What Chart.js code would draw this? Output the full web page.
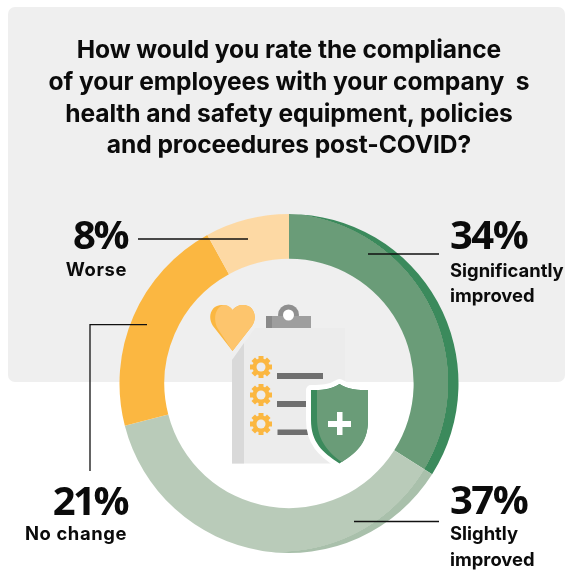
<!DOCTYPE html>
<html>
<head>
<meta charset="utf-8">
<title>Compliance post-COVID</title>
<script src="https://cdn.jsdelivr.net/npm/chart.js@4"></script>
<style>
  html, body { margin: 0; padding: 0; background: #fff; overflow: hidden; }
  #page { position: relative; width: 565px; height: 572px; overflow: hidden; font-family: "Inter", sans-serif; color: #0b0b0b; }
  #panel { position: absolute; left: 8px; top: 7px; width: 557px; height: 375px; background: #efefef; border-radius: 7px; }
  #chart { position: absolute; left: 119px; top: 213px; }
  #overlay { position: absolute; left: 0; top: 0; }
  .t { position: absolute; white-space: pre; line-height: 1; font-weight: 700; }
  .title { left: 0; width: 578px; text-align: center; font-size: 24.6px; letter-spacing: -0.08px; }
  .pct { font-family: "Open Sans", sans-serif; font-size: 40px; letter-spacing: -1.5px; }
  .lab { font-size: 18.4px; }
  .r { text-align: right; right: 438px; }
  .l { left: 450px; }
  .pct.r { letter-spacing: -2.5px; }
  .lab.r { letter-spacing: 0.6px; }
</style>
</head>
<body>
<div id="page">
  <div id="panel"></div>
  <canvas id="chart" width="340" height="341"></canvas>
  <svg id="overlay" width="565" height="572" viewBox="0 0 565 572">
    <!-- leader lines -->
    <g stroke="#111" stroke-width="1.3" fill="none">
      <path d="M138 239H248"/>
      <path d="M368 254H439"/>
      <path d="M354 521.5H439"/>
      <path d="M147 324.7H90V471"/>
    </g>
    <!-- heart -->
    <path d="M232.5 351L213 326C207 317 211 305 222 305C227 305 230.5 307 232.5 310C235 307 238 305 243 305C254 305 258 317 252 326Z" fill="#fbb741"/>
    <path d="M232.5 351L218 329C212 319 216 306 224 305C228 305 231 307 232.5 310C235 307 238 305 243 305C254 305 258 317 252 326Z" fill="#fdc56d"/>
    <!-- clipboard -->
    <circle cx="288.5" cy="315" r="10.5" fill="#8f8f8f"/>
    <rect x="266" y="316" width="45" height="12" fill="#9e9e9e"/>
    <rect x="266" y="316" width="6" height="12" fill="#8a8a8a"/>
    <circle cx="288.5" cy="315" r="5.5" fill="#fff"/>
    <path d="M232 360L255 328H345V463.5H232Z" fill="#ececec"/>
    <path d="M232 360L244 343V463.5H232Z" fill="#d9d9d9"/>
    <g fill="#fbb741" id="gears"></g>
    <g fill="#6f6f6f">
      <rect x="277" y="373" width="46" height="6"/>
      <rect x="277" y="401" width="36" height="6"/>
      <rect x="277.5" y="429.5" width="36" height="5.5"/>
    </g>
    <!-- shield -->
    <path d="M339.5 384C330 390 321 390 311 390V420C311 442 322 452 339.5 463.5C357 452 368 442 368 420V390C358 390 349 390 339.5 384Z" fill="#3b8a5c" stroke="#fff" stroke-width="10" stroke-linejoin="round"/>
    <path d="M339.5 384C330 390 321 390 311 390V420C311 442 322 452 339.5 463.5C357 452 368 442 368 420V390C358 390 349 390 339.5 384Z" fill="#3b8a5c"/>
    <path d="M339.5 384C332 389 325 390 317 390V418C317 438 326 450 339.5 460.5L342 462C358 452 368 442 368 420V390C358 390 349 390 339.5 384Z" fill="#6a9c78"/>
    <path d="M337 412H342.5V421H351V427H342.5V435H337V427H328V421H337Z" fill="#fff"/>
  </svg>
  <div class="t title" style="top:37px">How would you rate the compliance</div>
  <div class="t title" style="top:69px">of your employees with your company  s</div>
  <div class="t title" style="top:101px">health and safety equipment, policies</div>
  <div class="t title" style="top:132px">and proceedures post-COVID?</div>
  <div id="labels"></div>
</div>
<script>
// Datos de la encuesta
const categories = ["Significantly improved", "Slightly improved", "No change", "Worse"];
const values = [34, 37, 21, 8];
const baseColors = ["#6a9c78", "#b9cbb9", "#fbb741", "#fdd9a4"];
const rimColors = ["#3b8a5c", "#a9c0ab", "#fbb741", "#fdd9a4"];

// Lineas de texto de cada etiqueta
const labelLines = [["Significantly", "improved"], ["Slightly", "improved"], ["No change"], ["Worse"]];
const labelClass = ["l", "l", "r", "r"];
const pctTops = [214, 479, 480, 214];
const labelTops = [[261, 286], [524, 550], [524], [260]];

const labelsEl = document.getElementById("labels");
labelsEl.innerHTML = values.map((v, i) => `
  <div class="t pct ${labelClass[i]}" style="top:${pctTops[i]}px">${v}%</div>
  ${labelLines[i].map((line, j) => `<div class="t lab ${labelClass[i]}" style="top:${labelTops[i][j]}px">${line}</div>`).join("")}
`).join("");

// Engranajes de la lista
const gearsEl = document.getElementById("gears");
gearsEl.innerHTML = [367, 395, 424].map(y => {
    const teeth = [0, 45, 90, 135].map(a =>
        `<rect x="250" y="${y - 2.5}" width="22" height="5" transform="rotate(${a} 261 ${y})"/>`).join("");
    return `${teeth}<circle cx="261" cy="${y}" r="8.5"/><circle cx="261" cy="${y}" r="4.5" fill="#ececec"/>`;
}).join("");

// Relleno con borde exterior mas oscuro: circulo claro desplazado a la izquierda
function sliceFill(context) {
    const { ctx, chartArea } = context.chart;
    if (!chartArea) return baseColors[context.dataIndex];
    const cx = (chartArea.left + chartArea.right) / 2 - 10;
    const cy = (chartArea.top + chartArea.bottom) / 2 - 1;
    const g = ctx.createRadialGradient(cx, cy, 0, cx, cy, 169.5);
    g.addColorStop(0, baseColors[context.dataIndex]);
    g.addColorStop(0.998, baseColors[context.dataIndex]);
    g.addColorStop(1, rimColors[context.dataIndex]);
    return g;
}

new Chart(document.getElementById("chart"), {
    type: "doughnut",
    data: {
        labels: categories,
        datasets: [{
            data: values,
            backgroundColor: sliceFill,
            borderWidth: 0
        }]
    },
    options: {
        responsive: false,
        animation: false,
        radius: 169.5,
        cutout: 125,
        plugins: { legend: { display: false }, tooltip: { enabled: false } }
    }
});
</script>
</body>
</html>
